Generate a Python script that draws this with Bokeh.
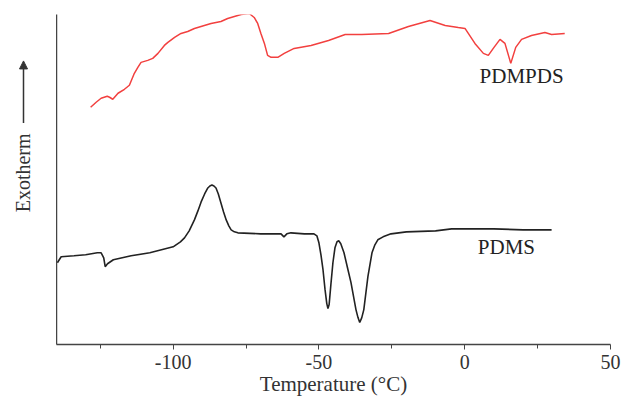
import math
from bokeh.plotting import figure
from bokeh.layouts import row
from bokeh.models import Range1d, Label, Arrow, NormalHead, FixedTicker
from bokeh.embed import file_html
from bokeh.resources import INLINE

# DSC traces (temperature in degC, heat flow in arbitrary units)
temp_pdms = [-139.7, -138.4, -134, -130, -126, -124.7, -123.8, -123.3, -122.5, -120.5,
             -114.4, -108, -100, -97.5, -96.1, -94.5, -92.7, -91.5, -90.4, -89.2,
             -88.1, -87.4, -86.7, -86, -85.3, -84.5, -83.6, -82.7, -81.8, -80.9,
             -80.1, -79, -77.8, -70, -63, -62, -61, -59.6, -55, -51.7,
             -50.7, -50, -49.3, -48.6, -47.9, -47.3, -46.9, -46.5, -45.9, -45.2,
             -44.5, -43.8, -43.2, -42.5, -41.4, -40.2, -39, -37.3, -36.6, -36,
             -35.3, -34.6, -33.2, -31.8, -30.8, -29.8, -28, -25.3, -20, -10,
             -4.5, 0, 10, 20, 29.8]
heat_pdms = [82, 88, 89, 90, 92, 92, 87, 78, 81, 85,
             89, 92, 98, 103, 107, 114, 125, 134, 143, 151,
             157, 159, 160, 159, 157, 151, 142, 133, 125, 119,
             115, 113, 112, 111, 111, 108, 111, 112, 111, 111,
             109, 102, 90, 75, 55, 41, 36, 40, 60, 82,
             97, 103, 104, 101, 92, 77, 62, 35, 27, 22,
             27, 35, 68, 92, 100, 105, 108, 111, 113, 114,
             116, 116, 116, 115, 115]

temp_pdmpds = [-128.3, -126.4, -124.7, -122.6, -121.8, -120.7, -118.9, -116.7, -115, -113.3,
               -112.1, -111, -108.7, -107, -105.2, -103, -101.8, -99.5, -97.3, -95,
               -92.7, -89.3, -87, -83.6, -81.3, -79, -76.7, -73.9, -72.2, -71,
               -69.9, -68.7, -67.6, -66.4, -64.1, -61.9, -58.5, -52.7, -46.7, -41,
               -35.3, -26.1, -19.3, -11.9, -6.7, -2.2, 0.1, 3.5, 6.4, 8.1,
               9.8, 12.1, 13.8, 15.8, 17.5, 19.5, 22.9, 27.5, 29.8, 34.3]
heat_pdmpds = [238, 243, 247, 249, 248, 246, 252, 256, 260, 272,
               278, 283, 285, 287, 292, 300, 303, 308, 312, 314,
               317, 320, 322, 324, 327, 329, 331, 332, 328, 322,
               312, 302, 290, 288, 288, 292, 297, 300, 305, 311,
               311, 312, 319, 325, 320, 318, 317, 302, 292, 290,
               297, 306, 302, 282, 298, 306, 310, 313, 311, 312]

x_ticks = [-100, -50, 0, 50]
x_tick_labels = {-100: "-100", -50: "-50", 0: "0", 50: "50"}
minor_ticks = [-125, -75, -25, 25]

FONT = "Liberation Serif"
TXT = "#333333"
AX = "#444444"

# ---- main plot ----
p = figure(width=566, height=398, output_backend="svg", toolbar_location=None,
           x_range=Range1d(-140, 50), y_range=Range1d(0, 331),
           min_border_left=0, min_border_right=12, min_border_top=14, min_border_bottom=0)
p.outline_line_color = None
p.xgrid.visible = False
p.ygrid.visible = False

p.line(temp_pdms, heat_pdms, line_color="#222222", line_width=1.6)
p.line(temp_pdmpds, heat_pdmpds, line_color="#f2403f", line_width=1.5)

xa = p.xaxis[0]
xa.ticker = FixedTicker(ticks=x_ticks, minor_ticks=minor_ticks)
xa.major_label_overrides = x_tick_labels
xa.axis_line_color = AX
xa.axis_line_width = 1.5
xa.major_tick_line_color = AX
xa.minor_tick_line_color = AX
xa.major_tick_in = 0
xa.major_tick_out = 5
xa.minor_tick_in = 0
xa.minor_tick_out = 4
xa.major_label_text_font = FONT
xa.major_label_text_font_size = "20px"
xa.major_label_text_color = TXT
xa.major_label_standoff = 5
xa.axis_label = "Temperature (°C)"
xa.axis_label_text_font = FONT
xa.axis_label_text_font_style = "normal"
xa.axis_label_text_font_size = "21px"
xa.axis_label_text_color = TXT
xa.axis_label_standoff = 0

ya = p.yaxis[0]
ya.axis_line_color = AX
ya.axis_line_width = 1.5
ya.major_tick_line_color = None
ya.minor_tick_line_color = None
ya.major_tick_in = 0
ya.major_tick_out = 0
ya.minor_tick_in = 0
ya.minor_tick_out = 0
ya.major_label_standoff = 0
ya.major_label_text_font_size = "0px"
ya.major_label_text_color = None

p.add_layout(Label(x=5.1, y=269, text="PDMPDS", text_align="left", text_baseline="middle",
                   text_font=FONT, text_font_size="21px", text_color="#222222"))
p.add_layout(Label(x=4.5, y=98, text="PDMS", text_align="left", text_baseline="middle",
                   text_font=FONT, text_font_size="21px", text_color="#222222"))

# ---- narrow strip on the left: y-axis title and arrow ----
side = figure(width=56, height=398, output_backend="svg", toolbar_location=None,
              x_range=Range1d(0, 56), y_range=Range1d(398, 0),
              x_axis_location=None, y_axis_location=None,
              min_border_left=0, min_border_right=0, min_border_top=0, min_border_bottom=0)
side.outline_line_color = None
side.xgrid.visible = False
side.ygrid.visible = False
side.add_layout(Label(x=22, y=191, text="Exotherm", angle=math.pi / 2,
                      text_align="center", text_baseline="middle",
                      text_font=FONT, text_font_size="20px", text_color=TXT))
side.add_layout(Arrow(x_start=23, y_start=131, x_end=23, y_end=56,
                      line_color="#333333", line_width=1.5,
                      end=NormalHead(size=8, fill_color="#333333", line_color="#333333")))

layout = row(side, p, spacing=0)
open("out.html", "w").write(file_html(layout, INLINE))
